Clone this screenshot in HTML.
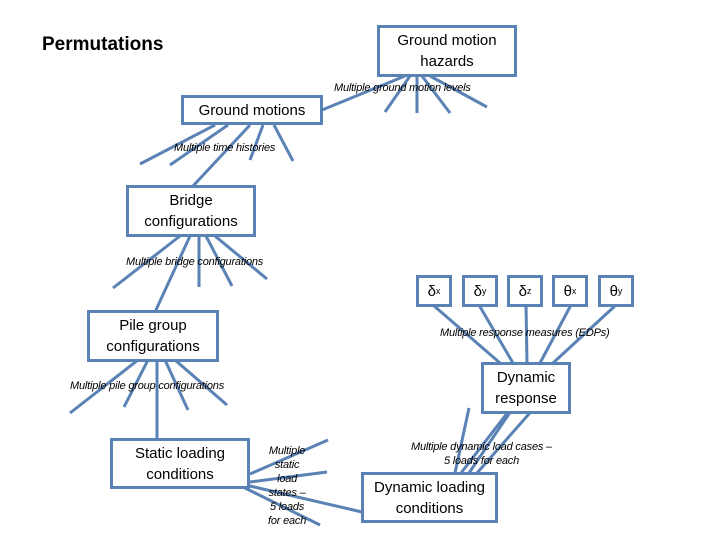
<!DOCTYPE html>
<html><head><style>
body{margin:0;background:#fff;width:720px;height:540px;overflow:hidden;position:relative;font-family:"Liberation Sans",sans-serif}
.b{position:absolute;border:3px solid #5a82b4;background:#fff;box-sizing:border-box;display:flex;align-items:center;justify-content:center;text-align:center;font-size:15px;line-height:21px;color:#000}
.l{position:absolute;font-style:italic;font-size:11px;color:#000;white-space:nowrap;letter-spacing:-0.2px}
.d{position:absolute;border:3px solid #5a82b4;box-sizing:border-box;width:36px;height:32px;top:275px;display:flex;align-items:center;justify-content:center;font-size:15px;background:#fff}
.d sub{font-size:9px;vertical-align:-4px}
</style></head><body>
<svg width="720" height="540" style="position:absolute;left:0;top:0" stroke="#5a82b4" stroke-width="3" fill="none">
<line x1="405" y1="76" x2="322" y2="110"/><line x1="410" y1="76" x2="385" y2="112"/><line x1="417" y1="76" x2="417" y2="113"/><line x1="422" y1="76" x2="450" y2="113"/><line x1="430" y1="76" x2="487" y2="107"/>
<line x1="215" y1="125" x2="140" y2="164"/><line x1="228" y1="125" x2="170" y2="165"/><line x1="250" y1="125" x2="193" y2="186"/><line x1="263" y1="125" x2="250" y2="160"/><line x1="274" y1="125" x2="293" y2="161"/>
<line x1="180" y1="236" x2="113" y2="288"/><line x1="190" y1="236" x2="155" y2="312"/><line x1="199" y1="236" x2="199" y2="287"/><line x1="206" y1="236" x2="232" y2="286"/><line x1="215" y1="236" x2="267" y2="279"/>
<line x1="138" y1="360" x2="70" y2="413"/><line x1="148" y1="360" x2="124" y2="407"/><line x1="157" y1="360" x2="157" y2="440"/><line x1="165" y1="360" x2="188" y2="410"/><line x1="175" y1="360" x2="227" y2="405"/>
<line x1="250" y1="474" x2="328" y2="440"/><line x1="250" y1="482" x2="327" y2="472"/><line x1="250" y1="486" x2="362" y2="512"/><line x1="243" y1="487" x2="320" y2="525"/>
<line x1="433" y1="305" x2="500" y2="363"/><line x1="479" y1="305" x2="513" y2="363"/><line x1="526" y1="305" x2="527" y2="363"/><line x1="571" y1="305" x2="540" y2="363"/><line x1="616" y1="305" x2="553" y2="363"/>
<line x1="469" y1="408" x2="455" y2="473"/><line x1="508" y1="412" x2="461" y2="473"/><line x1="515" y1="405" x2="469" y2="473"/><line x1="543" y1="398" x2="477" y2="473"/>
</svg>
<div style="position:absolute;left:42px;top:34px;font-weight:bold;font-size:19px">Permutations</div>
<div class="b" style="left:377px;top:25px;width:140px;height:52px">Ground motion<br>hazards</div>
<div class="l" style="left:334px;top:82px">Multiple ground motion levels</div>
<div class="b" style="left:181px;top:95px;width:142px;height:30px">Ground motions</div>
<div class="l" style="left:174px;top:142px">Multiple time histories</div>
<div class="b" style="left:126px;top:185px;width:130px;height:52px">Bridge<br>configurations</div>
<div class="l" style="left:126px;top:256px">Multiple bridge configurations</div>
<div class="b" style="left:87px;top:310px;width:132px;height:52px">Pile group<br>configurations</div>
<div class="l" style="left:70px;top:380px">Multiple pile group configurations</div>
<div class="b" style="left:110px;top:438px;width:140px;height:51px">Static loading<br>conditions</div>
<div class="l" style="left:268px;top:444px;text-align:center;line-height:14px">Multiple<br>static<br>load<br>states –<br>5 loads<br>for each</div>
<div class="b" style="left:361px;top:472px;width:137px;height:51px">Dynamic loading<br>conditions</div>
<div class="l" style="left:411px;top:440px;text-align:center;line-height:14px">Multiple dynamic load cases –<br>5 loads for each</div>
<div class="b" style="left:481px;top:362px;width:90px;height:52px">Dynamic<br>response</div>
<div class="l" style="left:440px;top:327px">Multiple response measures (EDPs)</div>
<div class="d" style="left:416px">δ<sub>x</sub></div>
<div class="d" style="left:462px">δ<sub>y</sub></div>
<div class="d" style="left:507px">δ<sub>z</sub></div>
<div class="d" style="left:552px">θ<sub>x</sub></div>
<div class="d" style="left:598px">θ<sub>y</sub></div>
</body></html>
